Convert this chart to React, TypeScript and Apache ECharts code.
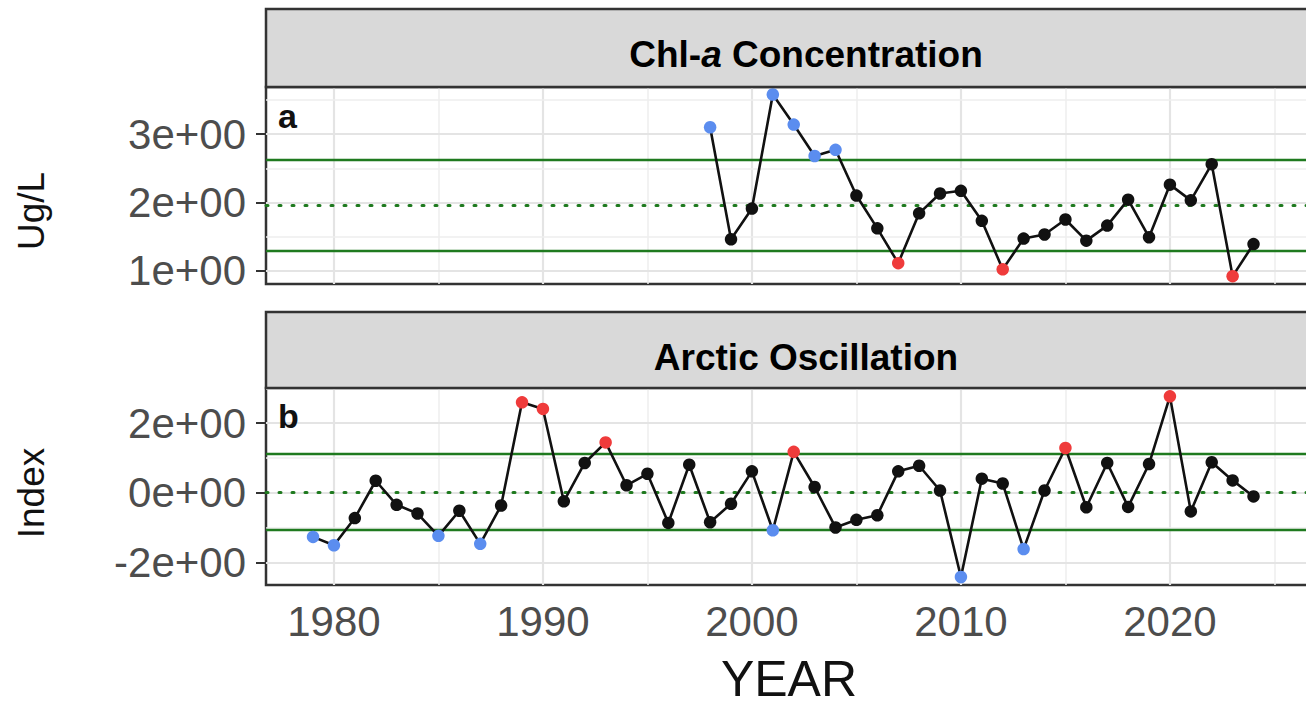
import React, { useEffect, useRef } from "react";
import * as echarts from "echarts";

// ---- Data ----
const chlYears = [1998, 1999, 2000, 2001, 2002, 2003, 2004, 2005, 2006, 2007, 2008, 2009, 2010, 2011, 2012, 2013, 2014, 2015, 2016, 2017, 2018, 2019, 2020, 2021, 2022, 2023, 2024];
const chlValues = [3.10, 1.46, 1.91, 3.58, 3.14, 2.68, 2.77, 2.10, 1.62, 1.11, 1.84, 2.13, 2.17, 1.73, 1.02, 1.47, 1.53, 1.75, 1.44, 1.66, 2.04, 1.49, 2.26, 2.03, 2.56, 0.92, 1.39];
const chlMean = 1.96;
const chlUpper = 2.62;
const chlLower = 1.29;

const aoYears = [1979, 1980, 1981, 1982, 1983, 1984, 1985, 1986, 1987, 1988, 1989, 1990, 1991, 1992, 1993, 1994, 1995, 1996, 1997, 1998, 1999, 2000, 2001, 2002, 2003, 2004, 2005, 2006, 2007, 2008, 2009, 2010, 2011, 2012, 2013, 2014, 2015, 2016, 2017, 2018, 2019, 2020, 2021, 2022, 2023, 2024];
const aoValues = [-1.26, -1.50, -0.72, 0.35, -0.34, -0.59, -1.23, -0.51, -1.46, -0.36, 2.60, 2.41, -0.24, 0.86, 1.45, 0.22, 0.55, -0.86, 0.81, -0.84, -0.31, 0.62, -1.07, 1.18, 0.17, -0.99, -0.77, -0.64, 0.62, 0.78, 0.07, -2.41, 0.41, 0.27, -1.61, 0.07, 1.29, -0.41, 0.86, -0.40, 0.83, 2.77, -0.53, 0.88, 0.36, -0.10];
const aoMean = 0.02;
const aoUpper = 1.13;
const aoLower = -1.05;

const xTickLabels = [1980, 1990, 2000, 2010, 2020];
const xMinorGrid = [1985, 1995, 2005, 2015, 2025];
const chlTicks = [1, 2, 3];
const chlMinorGrid = [1.5, 2.5, 3.5];
const aoTicks = [-2, 0, 2];
const aoMinorGrid = [-1, 1, 3];

const panelTitles = ["Chl-a Concentration", "Arctic Oscillation"];
const panelTags = ["a", "b"];
const yTitles = ["Ug/L", "Index"];
const xTitle = "YEAR";

// ---- Styles ----
const FONT = "'Liberation Sans', Arial, Helvetica, sans-serif";
const BLUE = "#5B8DEF";
const RED = "#EF3B3B";
const BLACK = "#111111";
const GREEN = "#1F7A1F";
const CHART_W = 1340;
const GRID_LEFT = 266;
const GRID_WIDTH = 1060;
const X_MIN = 1976.75;
const X_MAX = X_MIN + GRID_WIDTH / 20.9;

function gridLineSeries(idx: number, yMajor: number[], yMinor: number[]) {
  const major = { color: "#E4E4E4", width: 2.2, type: "solid" };
  const minor = { color: "#EEEEEE", width: 1.5, type: "solid" };
  return {
    type: "line",
    xAxisIndex: idx,
    yAxisIndex: idx,
    data: [],
    silent: true,
    z: 1,
    markLine: {
      silent: true,
      z: 1,
      symbol: ["none", "none"],
      label: { show: false },
      emphasis: { disabled: true },
      data: [
        ...xTickLabels.map((v) => ({ xAxis: v, lineStyle: major })),
        ...xMinorGrid.map((v) => ({ xAxis: v, lineStyle: minor })),
        ...yMajor.map((v) => ({ yAxis: v, lineStyle: major })),
        ...yMinor.map((v) => ({ yAxis: v, lineStyle: minor })),
      ],
    },
  };
}

function refLineSeries(idx: number, mean: number, lo: number, hi: number) {
  const solid = { color: GREEN, width: 2.4, type: "solid" };
  const dotted = { color: GREEN, width: 3, type: [2, 11], cap: "round" };
  return {
    type: "line",
    xAxisIndex: idx,
    yAxisIndex: idx,
    data: [],
    silent: true,
    z: 2,
    markLine: {
      silent: true,
      z: 2,
      symbol: ["none", "none"],
      label: { show: false },
      emphasis: { disabled: true },
      data: [
        { yAxis: hi, lineStyle: solid },
        { yAxis: mean, lineStyle: dotted },
        { yAxis: lo, lineStyle: solid },
      ],
    },
  };
}

function dataSeries(
  idx: number,
  years: number[],
  values: number[],
  lo: number,
  hi: number,
  highColor: string,
  lowColor: string
) {
  return {
    type: "line",
    xAxisIndex: idx,
    yAxisIndex: idx,
    z: 3,
    symbol: "circle",
    symbolSize: 12.5,
    showSymbol: true,
    lineStyle: { color: BLACK, width: 2.6 },
    itemStyle: { color: BLACK },
    data: years.map((y, i) => {
      const v = values[i];
      const c = v > hi ? highColor : v < lo ? lowColor : BLACK;
      return { value: [y, v], itemStyle: { color: c } };
    }),
  };
}

export default function App() {
  const ref = useRef<HTMLDivElement>(null);

  useEffect(() => {
    if (!ref.current) return;
    const chart = echarts.init(ref.current, null, { renderer: "svg" });

    const yAxisCommon = (ticks: number[], min: number, max: number) => ({
      type: "value",
      min,
      max,
      axisLine: { show: false },
      splitLine: { show: false },
      axisTick: { show: true, customValues: ticks, length: 10, lineStyle: { color: "#333333", width: 2 } },
      axisLabel: {
        show: true,
        customValues: ticks,
        formatter: (v: number) => `${Math.round(v)}e+00`,
        color: "#4D4D4D",
        fontSize: 42,
        fontFamily: FONT,
        margin: 20,
      },
    });

    const stripRect = (y: number, h: number) => ({
      type: "rect",
      z: 10,
      shape: { x: GRID_LEFT, y, width: GRID_WIDTH, height: h },
      style: { fill: "#D9D9D9", stroke: "#333333", lineWidth: 2.5 },
    });

    const tagText = (text: string, y: number) => ({
      type: "text",
      z: 11,
      x: 278,
      y,
      style: { text, fontSize: 34, fontWeight: "bold", fontFamily: FONT, fill: BLACK, align: "left", verticalAlign: "middle" },
    });

    const yTitleText = (text: string, y: number) => ({
      type: "text",
      z: 11,
      x: 31,
      y,
      rotation: Math.PI / 2,
      style: { text, fontSize: 37, fontFamily: FONT, fill: BLACK, align: "center", verticalAlign: "middle" },
    });

    const option = {
      animation: false,
      backgroundColor: "#ffffff",
      grid: [
        { left: GRID_LEFT, top: 87, width: GRID_WIDTH, height: 197, show: true, borderColor: "#333333", borderWidth: 2.5, backgroundColor: "#ffffff" },
        { left: GRID_LEFT, top: 388, width: GRID_WIDTH, height: 197, show: true, borderColor: "#333333", borderWidth: 2.5, backgroundColor: "#ffffff" },
      ],
      xAxis: [
        {
          type: "value",
          gridIndex: 0,
          min: X_MIN,
          max: X_MAX,
          axisLine: { show: false },
          axisTick: { show: false },
          axisLabel: { show: false },
          splitLine: { show: false },
        },
        {
          type: "value",
          gridIndex: 1,
          min: X_MIN,
          max: X_MAX,
          axisLine: { show: false },
          splitLine: { show: false },
          axisTick: { show: true, customValues: xTickLabels, length: 10, lineStyle: { color: "#333333", width: 2 } },
          axisLabel: {
            show: true,
            customValues: xTickLabels,
            formatter: (v: number) => String(v),
            color: "#4D4D4D",
            fontSize: 42,
            fontFamily: FONT,
            margin: 15,
          },
        },
      ],
      yAxis: [
        { gridIndex: 0, ...yAxisCommon(chlTicks, 0.805, 3.69) },
        { gridIndex: 1, ...yAxisCommon(aoTicks, -2.64, 3.01) },
      ],
      series: [
        gridLineSeries(0, chlTicks, chlMinorGrid),
        refLineSeries(0, chlMean, chlLower, chlUpper),
        dataSeries(0, chlYears, chlValues, chlLower, chlUpper, BLUE, RED),
        gridLineSeries(1, aoTicks, aoMinorGrid),
        refLineSeries(1, aoMean, aoLower, aoUpper),
        dataSeries(1, aoYears, aoValues, aoLower, aoUpper, RED, BLUE),
      ],
      graphic: [
        stripRect(9, 78),
        stripRect(312, 76),
        {
          type: "text",
          z: 11,
          x: 806,
          y: 54,
          style: {
            text: "{b|Chl-}{i|a}{b| Concentration}",
            align: "center",
            verticalAlign: "middle",
            rich: {
              b: { fontSize: 37, fontWeight: "bold", fontFamily: FONT, fill: "#000000" },
              i: { fontSize: 37, fontWeight: "bold", fontStyle: "italic", fontFamily: FONT, fill: "#000000" },
            },
          },
        },
        {
          type: "text",
          z: 11,
          x: 806,
          y: 357,
          style: {
            text: panelTitles[1],
            align: "center",
            verticalAlign: "middle",
            fontSize: 37,
            fontWeight: "bold",
            fontFamily: FONT,
            fill: "#000000",
          },
        },
        tagText(panelTags[0], 116),
        tagText(panelTags[1], 416),
        yTitleText(yTitles[0], 211),
        yTitleText(yTitles[1], 493),
        {
          type: "text",
          z: 11,
          x: 789,
          y: 679,
          style: { text: xTitle, fontSize: 50, fontFamily: FONT, fill: BLACK, align: "center", verticalAlign: "middle" },
        },
      ],
    };

    chart.setOption(option as any);
    return () => {
      chart.dispose();
    };
  }, []);

  return (
    <div style={{ position: "absolute", left: 0, top: 0, width: 1306, height: 706, overflow: "hidden", background: "#ffffff" }}>
      <div ref={ref} style={{ width: CHART_W, height: 706 }} />
    </div>
  );
}
